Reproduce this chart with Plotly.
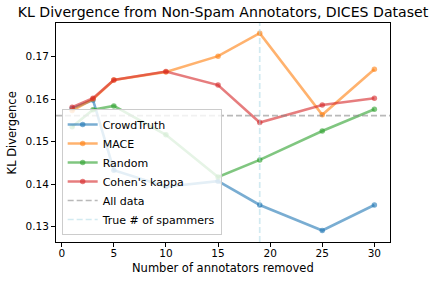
import plotly.graph_objects as go

x_removed = [1, 3, 5, 10, 15, 19, 25, 30]
crowdtruth = [0.1578, 0.1598, 0.1433, 0.1394, 0.1407, 0.1351, 0.1291, 0.1351]
mace = [0.1573, 0.1600, 0.1645, 0.1664, 0.1701, 0.1755, 0.1563, 0.1670]
random_sel = [0.1535, 0.1575, 0.1584, 0.1516, 0.1417, 0.1457, 0.1525, 0.1576]
cohens_kappa = [0.1581, 0.1602, 0.1645, 0.1665, 0.1633, 0.1545, 0.1586, 0.1602]
all_data = 0.1561
true_spammers = 19

series_names = ["CrowdTruth", "MACE", "Random", "Cohen's kappa"]
series_values = [crowdtruth, mace, random_sel, cohens_kappa]
series_colors = [(31, 119, 180), (255, 127, 14), (44, 160, 44), (214, 39, 40)]

x_ticks = [0, 5, 10, 15, 20, 25, 30]
y_ticks = [0.13, 0.14, 0.15, 0.16, 0.17]
X_RANGE = [-0.55, 31.5]
Y_RANGE = [0.1264, 0.1779]

FONT = "DejaVu Sans"

fig = go.Figure()
for name, vals, (r, g, b) in zip(series_names, series_values, series_colors):
    c = f"rgba({r},{g},{b},0.6)"
    fig.add_trace(go.Scatter(
        x=x_removed, y=vals, name=name, mode="lines+markers",
        line=dict(color=c, width=2.6),
        marker=dict(color=c, size=5.5, line=dict(width=0)),
    ))

fig.add_trace(go.Scatter(
    x=X_RANGE, y=[all_data, all_data], name="All data", mode="lines",
    line=dict(color="rgba(128,128,128,0.55)", width=1.7, dash="6px,3px"),
))
fig.add_trace(go.Scatter(
    x=[true_spammers, true_spammers], y=Y_RANGE, name="True # of spammers", mode="lines",
    line=dict(color="rgba(173,216,230,0.55)", width=1.7, dash="6px,3px"),
))

axis_common = dict(
    showline=True, linecolor="black", linewidth=1, mirror=True,
    ticks="outside", ticklen=4, tickwidth=1, tickcolor="black",
    showgrid=False, zeroline=False, automargin=False,
    tickfont=dict(family=FONT, size=10.5, color="black"),
)

fig.update_layout(
    width=434, height=282,
    margin=dict(l=56, r=44, t=23, b=40, autoexpand=False),
    paper_bgcolor="white", plot_bgcolor="white",
    font=dict(family=FONT, color="black"),
    title=dict(text="KL Divergence from Non-Spam Annotators, DICES Dataset",
               x=0.5, xref="paper", xanchor="center", y=0.957, yanchor="middle",
               font=dict(family=FONT, size=14.1, color="black")),
    xaxis=dict(range=X_RANGE, tickvals=x_ticks, ticktext=[str(t) for t in x_ticks],
               ticklabelstandoff=-3, **axis_common),
    yaxis=dict(range=Y_RANGE, tickvals=y_ticks, ticktext=[f"{t:.2f}" for t in y_ticks],
               **axis_common),
    annotations=[
        dict(text="Number of annotators removed", xref="paper", yref="paper",
             x=0.5, y=-0.119, xanchor="center", yanchor="middle", showarrow=False,
             font=dict(family=FONT, size=11.5, color="black")),
        dict(text="KL Divergence", xref="paper", yref="paper",
             x=-0.132, y=0.5, xanchor="center", yanchor="middle", showarrow=False,
             textangle=-90, font=dict(family=FONT, size=11.5, color="black")),
    ],
    showlegend=True,
    legend=dict(x=0.017, y=0.032, xanchor="left", yanchor="bottom",
                bgcolor="rgba(255,255,255,0.8)", bordercolor="#cccccc", borderwidth=1,
                font=dict(family=FONT, size=11, color="black"),
                itemwidth=30, tracegroupgap=0),
)

fig.write_html("out.html", config={"displayModeBar": False},
               post_script="document.body.style.margin='0';document.body.style.overflow='hidden';")
